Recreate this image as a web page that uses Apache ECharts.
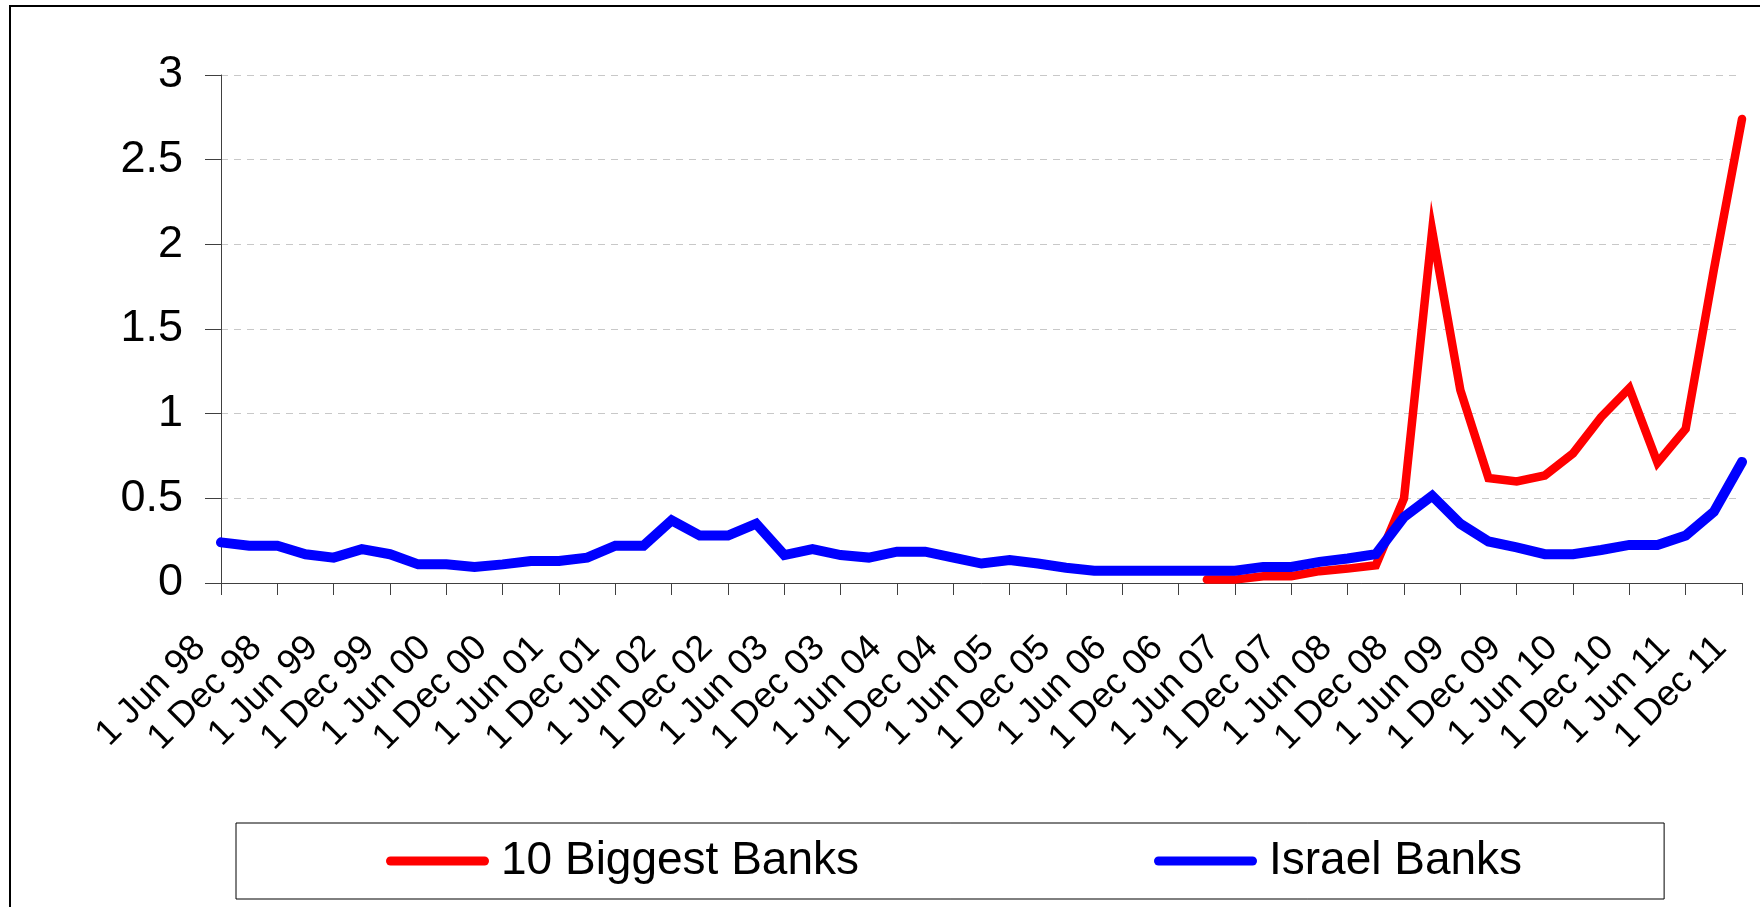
<!DOCTYPE html>
<html>
<head>
<meta charset="utf-8">
<script src="https://cdn.jsdelivr.net/npm/echarts@6/dist/echarts.min.js"></script>
<style>
html,body{margin:0;padding:0;background:#fff;}
#chart{width:1760px;height:907px;}
</style>
</head>
<body>
<div id="chart"></div>
<script>
var categories = [
  '1 Jun 98','1 Sep 98','1 Dec 98','1 Mar 99','1 Jun 99','1 Sep 99','1 Dec 99','1 Mar 00',
  '1 Jun 00','1 Sep 00','1 Dec 00','1 Mar 01','1 Jun 01','1 Sep 01','1 Dec 01','1 Mar 02',
  '1 Jun 02','1 Sep 02','1 Dec 02','1 Mar 03','1 Jun 03','1 Sep 03','1 Dec 03','1 Mar 04',
  '1 Jun 04','1 Sep 04','1 Dec 04','1 Mar 05','1 Jun 05','1 Sep 05','1 Dec 05','1 Mar 06',
  '1 Jun 06','1 Sep 06','1 Dec 06','1 Mar 07','1 Jun 07','1 Sep 07','1 Dec 07','1 Mar 08',
  '1 Jun 08','1 Sep 08','1 Dec 08','1 Mar 09','1 Jun 09','1 Sep 09','1 Dec 09','1 Mar 10',
  '1 Jun 10','1 Sep 10','1 Dec 10','1 Mar 11','1 Jun 11','1 Sep 11','1 Dec 11'
];

var biggestBanks = [
  null,null,null,null,null,null,null,null,
  null,null,null,null,null,null,null,null,
  null,null,null,null,null,null,null,null,
  null,null,null,null,null,null,null,null,
  null,null,null,0.02,0.02,0.04,0.04,0.07,
  0.085,0.105,0.50,2.08,1.14,0.62,0.60,0.635,
  0.765,0.98,1.15,0.71,0.91,1.85,2.74
];

var israelBanks = [
  0.24,0.22,0.22,0.17,0.15,0.20,0.17,0.11,
  0.11,0.095,0.11,0.13,0.13,0.15,0.22,0.22,
  0.37,0.28,0.28,0.35,0.165,0.20,0.165,0.15,
  0.185,0.185,0.15,0.115,0.135,0.115,0.09,0.072,
  0.072,0.072,0.072,0.072,0.072,0.095,0.095,0.125,
  0.145,0.17,0.39,0.515,0.35,0.245,0.21,0.17,
  0.17,0.195,0.225,0.225,0.28,0.42,0.715
];

var seriesNames = ['10 Biggest Banks', 'Israel Banks'];

var FONT = '"Liberation Sans", Arial, sans-serif';
var chart = echarts.init(document.getElementById('chart'), null, {renderer: 'canvas'});
var pill = 'path://M4.5,0L98.5,0A4.5,4.5,0,0,1,98.5,9L4.5,9A4.5,4.5,0,0,1,4.5,0Z';

chart.setOption({
  animation: false,
  backgroundColor: '#fff',
  graphic: [{
    type: 'rect', silent: true, z: -1,
    shape: {x: 10, y: 6, width: 1800, height: 1000},
    style: {fill: 'none', stroke: '#000', lineWidth: 2}
  }],
  grid: {left: 221, right: 18, top: 75, bottom: 324, containLabel: false},
  legend: {
    left: 236, top: 823,
    orient: 'horizontal',
    padding: [15, 142, 15, 150],
    borderColor: '#000', borderWidth: 1,
    itemWidth: 103, itemHeight: 9, itemGap: 295,
    textStyle: {fontFamily: FONT, fontSize: 46, color: '#000', lineHeight: 46, padding: [0, 0, 0, 7]},
    data: [
      {name: seriesNames[0], icon: pill},
      {name: seriesNames[1], icon: pill}
    ]
  },
  xAxis: {
    type: 'category',
    data: categories,
    boundaryGap: false,
    axisLine: {lineStyle: {color: '#404040', width: 1}},
    axisTick: {show: true, interval: 1, length: 12, lineStyle: {color: '#404040'}},
    axisLabel: {
      interval: 1, rotate: 45, margin: 38, padding: [0, 30, 0, 0],
      fontFamily: FONT, fontSize: 36, color: '#000'
    },
    splitLine: {show: false}
  },
  yAxis: {
    type: 'value',
    min: 0, max: 3, interval: 0.5,
    axisLine: {show: true, lineStyle: {color: '#404040', width: 1}},
    axisTick: {show: true, length: 16, lineStyle: {color: '#404040'}},
    axisLabel: {margin: 38, fontFamily: FONT, fontSize: 45, color: '#000'},
    splitLine: {show: true, lineStyle: {color: '#c8c8c8', width: 1, type: [7, 6]}}
  },
  series: [
    {
      name: seriesNames[0], type: 'line', data: biggestBanks,
      showSymbol: false, symbol: 'none',
      itemStyle: {color: '#ff0000'},
      lineStyle: {color: '#ff0000', width: 8.5, cap: 'round', join: 'miter'}
    },
    {
      name: seriesNames[1], type: 'line', data: israelBanks,
      showSymbol: false, symbol: 'none',
      itemStyle: {color: '#0000ff'},
      lineStyle: {color: '#0000ff', width: 10, cap: 'round', join: 'miter'}
    }
  ]
});
</script>
</body>
</html>
